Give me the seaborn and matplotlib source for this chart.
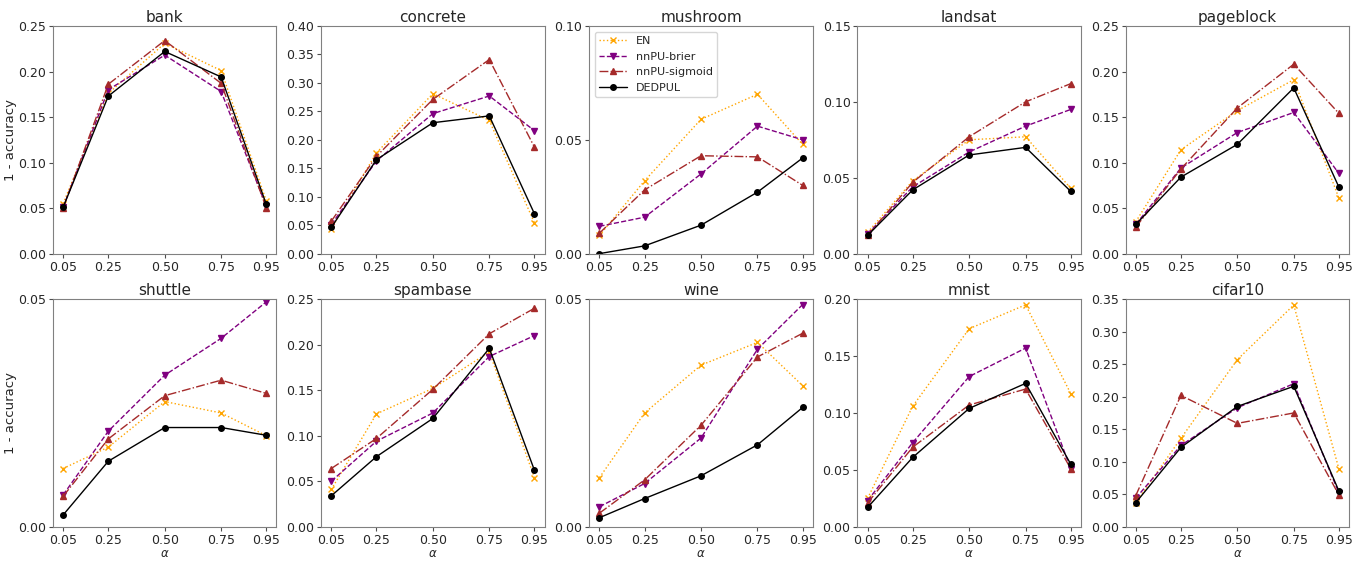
import numpy as np
import pandas as pd
import matplotlib
matplotlib.use("Agg")
import matplotlib.pyplot as plt
import seaborn as sns

alphas = [0.05, 0.25, 0.50, 0.75, 0.95]
datasets = ["bank", "concrete", "mushroom", "landsat", "pageblock",
            "shuttle", "spambase", "wine", "mnist", "cifar10"]
methods = ["EN", "nnPU-brier", "nnPU-sigmoid", "DEDPUL"]

en = {
    "bank":      [0.055, 0.176, 0.231, 0.201, 0.058],
    "concrete":  [0.044, 0.177, 0.281, 0.234, 0.054],
    "mushroom":  [0.008, 0.032, 0.059, 0.070, 0.048],
    "landsat":   [0.014, 0.048, 0.075, 0.077, 0.043],
    "pageblock": [0.035, 0.114, 0.157, 0.191, 0.061],
    "shuttle":   [0.0128, 0.0175, 0.0275, 0.025, 0.020],
    "spambase":  [0.041, 0.124, 0.152, 0.192, 0.054],
    "wine":      [0.0108, 0.025, 0.0355, 0.0405, 0.031],
    "mnist":     [0.025, 0.106, 0.174, 0.195, 0.117],
    "cifar10":   [0.037, 0.136, 0.257, 0.341, 0.089],
}
nnpu_brier = {
    "bank":      [0.051, 0.180, 0.218, 0.178, 0.052],
    "concrete":  [0.051, 0.163, 0.246, 0.277, 0.216],
    "mushroom":  [0.012, 0.016, 0.035, 0.056, 0.050],
    "landsat":   [0.013, 0.044, 0.067, 0.084, 0.095],
    "pageblock": [0.032, 0.094, 0.133, 0.155, 0.088],
    "shuttle":   [0.007, 0.021, 0.0333, 0.0414, 0.0494],
    "spambase":  [0.050, 0.094, 0.125, 0.187, 0.210],
    "wine":      [0.0044, 0.0095, 0.0195, 0.039, 0.0488],
    "mnist":     [0.023, 0.074, 0.132, 0.157, 0.051],
    "cifar10":   [0.044, 0.125, 0.183, 0.220, 0.052],
}
nnpu_sigmoid = {
    "bank":      [0.050, 0.186, 0.234, 0.187, 0.050],
    "concrete":  [0.057, 0.171, 0.271, 0.341, 0.187],
    "mushroom":  [0.009, 0.028, 0.043, 0.0425, 0.030],
    "landsat":   [0.012, 0.047, 0.077, 0.100, 0.112],
    "pageblock": [0.029, 0.093, 0.160, 0.208, 0.154],
    "shuttle":   [0.0067, 0.0193, 0.0288, 0.0322, 0.0293],
    "spambase":  [0.064, 0.097, 0.151, 0.212, 0.240],
    "wine":      [0.003, 0.0103, 0.0223, 0.0373, 0.0425],
    "mnist":     [0.021, 0.070, 0.107, 0.121, 0.051],
    "cifar10":   [0.048, 0.202, 0.159, 0.175, 0.049],
}
dedpul = {
    "bank":      [0.051, 0.173, 0.222, 0.194, 0.054],
    "concrete":  [0.046, 0.165, 0.230, 0.242, 0.070],
    "mushroom":  [0.000, 0.0034, 0.0125, 0.027, 0.042],
    "landsat":   [0.012, 0.042, 0.065, 0.070, 0.041],
    "pageblock": [0.032, 0.084, 0.120, 0.182, 0.073],
    "shuttle":   [0.0026, 0.0144, 0.0218, 0.0218, 0.0201],
    "spambase":  [0.034, 0.077, 0.119, 0.196, 0.062],
    "wine":      [0.002, 0.0062, 0.0112, 0.018, 0.0262],
    "mnist":     [0.017, 0.061, 0.104, 0.126, 0.055],
    "cifar10":   [0.037, 0.122, 0.185, 0.216, 0.055],
}
ytick_max = {"bank": 0.25, "concrete": 0.40, "mushroom": 0.10, "landsat": 0.15,
             "pageblock": 0.25, "shuttle": 0.05, "spambase": 0.25, "wine": 0.05,
             "mnist": 0.20, "cifar10": 0.35}

series = {"EN": en, "nnPU-brier": nnpu_brier, "nnPU-sigmoid": nnpu_sigmoid, "DEDPUL": dedpul}
rows = []
for m in methods:
    for d in datasets:
        for a, v in zip(alphas, series[m][d]):
            rows.append({"method": m, "dataset": d, "alpha": a, "err": v})
df = pd.DataFrame(rows)

styles = {
    "EN": dict(color="orange", linestyle=":", marker="x"),
    "nnPU-brier": dict(color="purple", linestyle="--", marker="v"),
    "nnPU-sigmoid": dict(color="brown", linestyle="-.", marker="^"),
    "DEDPUL": dict(color="black", linestyle="-", marker="o"),
}

sns.set_style("ticks", {"axes.edgecolor": "0.5"})
plt.rcParams["font.family"] = ["DejaVu Sans"]

fig, axes = plt.subplots(2, 5, figsize=(13.66, 5.61), dpi=100)
fig.subplots_adjust(left=0.0388, right=0.9876, top=0.9537, bottom=0.061,
                    wspace=0.2, hspace=0.2)

for i, d in enumerate(datasets):
    ax = axes.flat[i]
    sub = df[df["dataset"] == d]
    for m in methods:
        s = styles[m]
        sm = sub[sub["method"] == m]
        sns.lineplot(data=sm, x="alpha", y="err", ax=ax, color=s["color"],
                     linestyle=s["linestyle"], marker=s["marker"], markersize=4,
                     markeredgecolor=s["color"], markeredgewidth=1,
                     linewidth=1, label=m, legend=False)
    step = 0.05
    ax.set_ylim(0, ytick_max[d])
    ax.set_yticks(np.arange(0, ytick_max[d] + 1e-9, step))
    ax.yaxis.set_major_formatter(matplotlib.ticker.FormatStrFormatter("%.2f"))
    ax.set_xticks(alphas)
    ax.set_xticklabels([f"{a:.2f}" for a in alphas])
    ax.tick_params(labelsize=9, length=3, pad=2, color="0.3")
    ax.set_title(d, fontsize=11, pad=3)
    ax.set_xlabel(r"$\alpha$" if i >= 5 else "", fontsize=8.5, labelpad=0)
    ax.set_ylabel("1 - accuracy" if i % 5 == 0 else "", fontsize=9.5, labelpad=1)
    if d == "mushroom":
        ax.legend(loc="upper left", fontsize=8, handlelength=2.5, frameon=True)

fig.savefig("out.png", dpi=100)
